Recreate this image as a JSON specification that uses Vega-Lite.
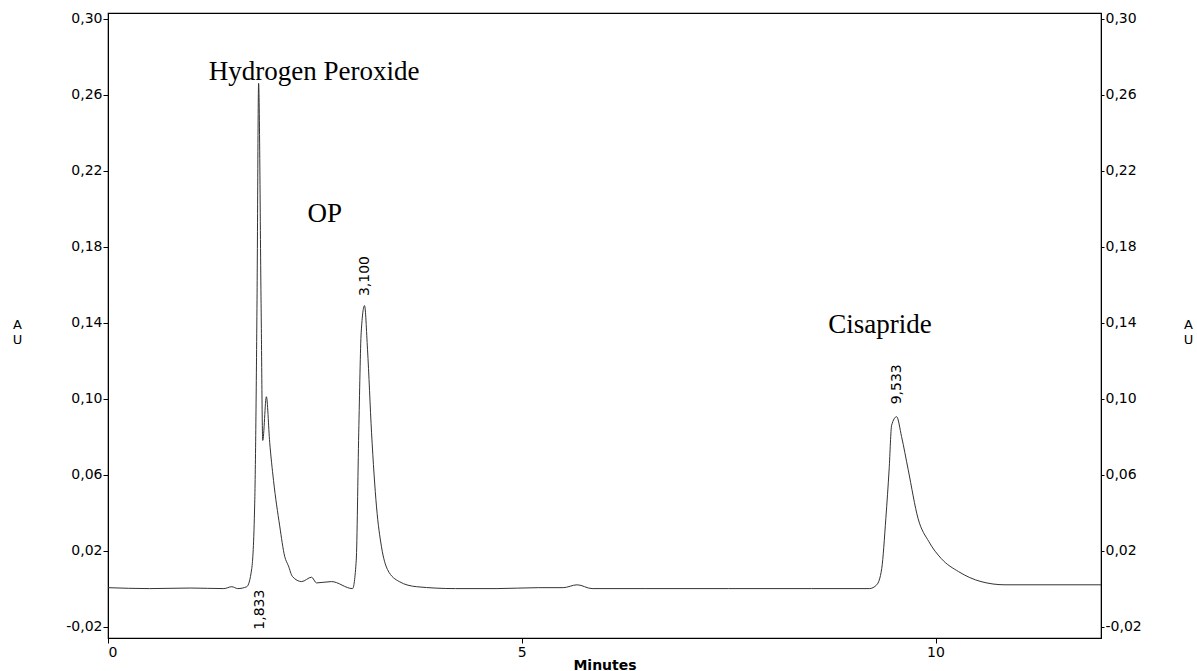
{
  "$schema": "https://vega.github.io/schema/vega-lite/v6.json",
  "width": 993,
  "height": 625,
  "autosize": "none",
  "padding": {"left": 108, "top": 13, "right": 96, "bottom": 33},
  "background": "white",
  "config": {
    "view": {"stroke": "black", "strokeWidth": 1.2},
    "font": "DejaVu Sans"
  },
  "datasets": {
    "trace": [
      {"t": 0, "au": 0.0005}, {"t": 0.5, "au": 0.0}, {"t": 1.0, "au": 0.0003}, {"t": 1.4, "au": 0.0},
      {"t": 1.496, "au": 0.001}, {"t": 1.568, "au": 0.0}, {"t": 1.677, "au": 0.001}, {"t": 1.737, "au": 0.0105},
      {"t": 1.773, "au": 0.045}, {"t": 1.801, "au": 0.152}, {"t": 1.82, "au": 0.266}, {"t": 1.85, "au": 0.15},
      {"t": 1.87, "au": 0.078}, {"t": 1.914, "au": 0.101}, {"t": 1.954, "au": 0.077}, {"t": 2.0, "au": 0.057},
      {"t": 2.075, "au": 0.033}, {"t": 2.135, "au": 0.017}, {"t": 2.18, "au": 0.012}, {"t": 2.23, "au": 0.0063},
      {"t": 2.34, "au": 0.0037}, {"t": 2.46, "au": 0.006}, {"t": 2.52, "au": 0.003}, {"t": 2.7, "au": 0.0037},
      {"t": 2.955, "au": 0.0}, {"t": 3.0, "au": 0.015}, {"t": 3.03, "au": 0.082}, {"t": 3.06, "au": 0.135},
      {"t": 3.1, "au": 0.149}, {"t": 3.136, "au": 0.126}, {"t": 3.185, "au": 0.082}, {"t": 3.245, "au": 0.043},
      {"t": 3.305, "au": 0.022}, {"t": 3.378, "au": 0.01}, {"t": 3.52, "au": 0.0037}, {"t": 3.73, "au": 0.001},
      {"t": 4.2, "au": 0.0}, {"t": 4.7, "au": 0.0}, {"t": 5.2, "au": 0.0005}, {"t": 5.5, "au": 0.0005},
      {"t": 5.67, "au": 0.002}, {"t": 5.85, "au": 0.0}, {"t": 6.5, "au": 0.0}, {"t": 7.5, "au": 0.0},
      {"t": 8.5, "au": 0.0}, {"t": 9.2, "au": 0.0}, {"t": 9.29, "au": 0.002}, {"t": 9.35, "au": 0.0105},
      {"t": 9.4, "au": 0.037}, {"t": 9.44, "au": 0.063}, {"t": 9.47, "au": 0.086}, {"t": 9.53, "au": 0.0905},
      {"t": 9.59, "au": 0.08}, {"t": 9.67, "au": 0.0626}, {"t": 9.79, "au": 0.0368}, {"t": 9.92, "au": 0.0247},
      {"t": 10.07, "au": 0.0158}, {"t": 10.28, "au": 0.0089}, {"t": 10.55, "au": 0.0037}, {"t": 10.84, "au": 0.002},
      {"t": 11.36, "au": 0.002}, {"t": 12.0, "au": 0.002}
    ],
    "names": [
      {"t": 2.49, "au": 0.272, "label": "Hydrogen Peroxide"},
      {"t": 2.62, "au": 0.197, "label": "OP"},
      {"t": 9.33, "au": 0.139, "label": "Cisapride"}
    ],
    "rt_up": [
      {"t": 3.1, "au": 0.154, "label": "3,100"},
      {"t": 9.533, "au": 0.097, "label": "9,533"}
    ],
    "rt_down": [
      {"t": 1.833, "au": -0.0005, "label": "1,833"}
    ]
  },
  "layer": [
    {
      "data": {"name": "trace"},
      "mark": {"type": "line", "color": "#333333", "strokeWidth": 1, "interpolate": "monotone"},
      "encoding": {
        "x": {
          "field": "t", "type": "quantitative",
          "scale": {"domain": [0, 12], "nice": false, "zero": false},
          "axis": {
            "title": "Minutes", "values": [0, 5, 10], "format": "d", "grid": false,
            "domainColor": "black", "tickColor": "black", "tickSize": 5,
            "labelColor": "black", "labelFontSize": 14, "labelPadding": 2,
            "titleColor": "black", "titleFontSize": 14, "titleFontWeight": "bold",
            "titleY": 31, "titleBaseline": "alphabetic"
          }
        },
        "y": {
          "field": "au", "type": "quantitative",
          "scale": {"domain": [-0.026, 0.303], "nice": false, "zero": false},
          "axis": {
            "orient": "left", "title": ["A", "U"], "titleAngle": 0, "titleX": -91, "titleY": 311,
            "titleFontSize": 13, "titleFontWeight": "normal", "titleColor": "black", "titleAlign": "center", "titleBaseline": "middle", "titleLineHeight": 15,
            "values": [-0.02, 0.02, 0.06, 0.1, 0.14, 0.18, 0.22, 0.26, 0.3],
            "labelExpr": "replace(replace(format(datum.value, '.2f'), '.', ','), '\u2212', '-')",
            "grid": false, "domainColor": "black", "tickColor": "black", "tickSize": 5,
            "labelColor": "black", "labelFontSize": 14, "labelPadding": 1
          }
        }
      }
    },
    {
      "data": {"name": "trace"},
      "mark": {"type": "line", "opacity": 0},
      "encoding": {
        "x": {"field": "t", "type": "quantitative"},
        "y": {
          "field": "au", "type": "quantitative",
          "axis": {
            "orient": "right", "title": ["A", "U"], "titleAngle": 0, "titleX": 87, "titleY": 311,
            "titleFontSize": 13, "titleFontWeight": "normal", "titleColor": "black", "titleAlign": "center", "titleBaseline": "middle", "titleLineHeight": 15,
            "values": [-0.02, 0.02, 0.06, 0.1, 0.14, 0.18, 0.22, 0.26, 0.3],
            "labelExpr": "replace(replace(format(datum.value, '.2f'), '.', ','), '\u2212', '-')",
            "grid": false, "domainColor": "black", "tickColor": "black", "tickSize": 3,
            "labelColor": "black", "labelFontSize": 14, "labelPadding": 1
          }
        }
      }
    },
    {
      "data": {"name": "names"},
      "mark": {"type": "text", "font": "Liberation Serif", "fontSize": 27, "color": "black", "align": "center", "baseline": "middle"},
      "encoding": {
        "x": {"field": "t", "type": "quantitative"},
        "y": {"field": "au", "type": "quantitative", "axis": null},
        "text": {"field": "label"}
      }
    },
    {
      "data": {"name": "rt_up"},
      "mark": {"type": "text", "fontSize": 14, "color": "black", "angle": 270, "align": "left", "baseline": "middle"},
      "encoding": {
        "x": {"field": "t", "type": "quantitative"},
        "y": {"field": "au", "type": "quantitative", "axis": null},
        "text": {"field": "label"}
      }
    },
    {
      "data": {"name": "rt_down"},
      "mark": {"type": "text", "fontSize": 14, "color": "black", "angle": 270, "align": "right", "baseline": "middle"},
      "encoding": {
        "x": {"field": "t", "type": "quantitative"},
        "y": {"field": "au", "type": "quantitative", "axis": null},
        "text": {"field": "label"}
      }
    }
  ],
  "resolve": {"axis": {"y": "independent"}}
}
